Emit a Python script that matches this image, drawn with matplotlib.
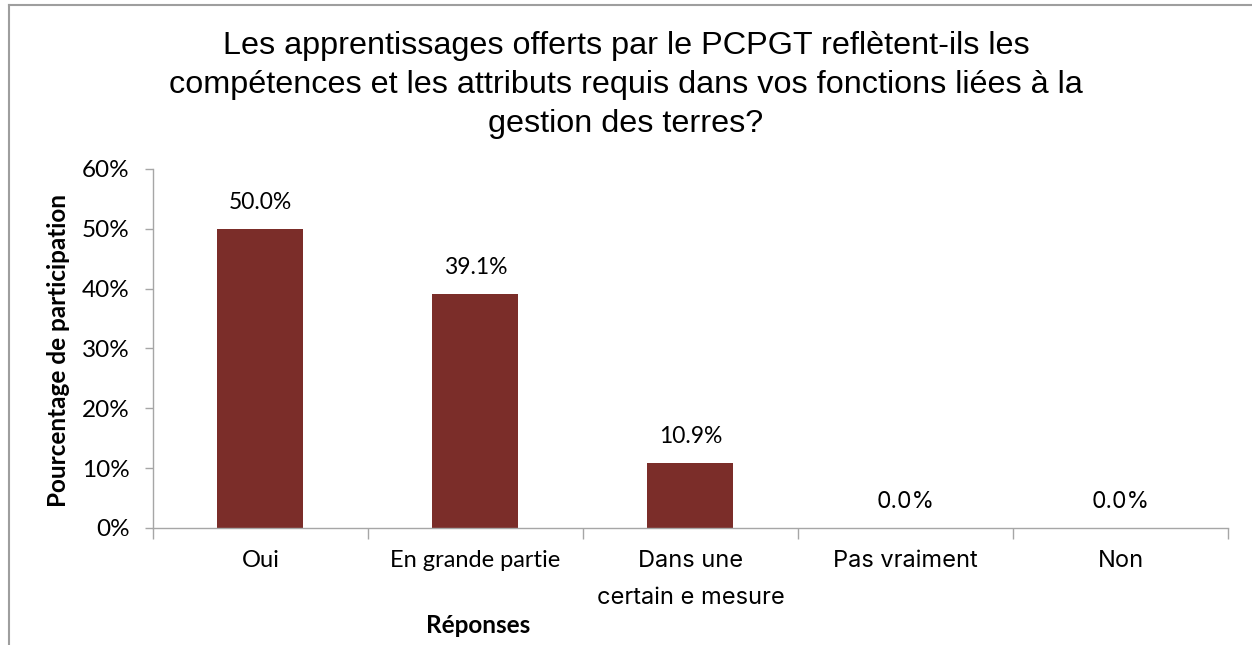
import matplotlib.pyplot as plt
from matplotlib.lines import Line2D
from matplotlib.ticker import FuncFormatter, MultipleLocator
from matplotlib.font_manager import fontManager

# -------------------------- données --------------------------
categories = ['Oui', 'En grande partie', 'Dans une\ncertain e mesure', 'Pas vraiment', 'Non']
values = [50.0, 39.1, 10.9, 0.0, 0.0]
title = ("Les apprentissages offerts par le PCPGT reflètent-ils les\n"
         "compétences et les attributs requis dans vos fonctions liées à la\n"
         "gestion des terres?")
ylabel = 'Pourcentage de participation'
xlabel = 'Réponses'

names = {f.name for f in fontManager.ttflist}
alt_font = 'Inter' if 'Inter' in names else 'Roboto'

# polices : texte principal style Calibri, quelques libellés style Aptos
label_fonts = ['Lato', 'Lato', alt_font, alt_font, alt_font]
value_fonts = ['Lato', 'Lato', 'Lato', alt_font, alt_font]
bar_color = '#7B2D29'
axis_gray = '#A6A6A6'

fig = plt.figure(figsize=(12.52, 6.45), dpi=100)
ax = fig.add_axes([0.1222, 0.1814, 0.8586, 0.5566])

x = list(range(len(categories)))
bars = ax.bar(x, values, width=0.4, color=bar_color, zorder=2)

ax.set_xlim(-0.5, len(categories) - 0.5)
ax.set_ylim(0, 60)
ax.yaxis.set_major_locator(MultipleLocator(10))
ax.yaxis.set_major_formatter(FuncFormatter(lambda v, p: f'{v:.0f}%'))

for s in ['top', 'right']:
    ax.spines[s].set_visible(False)
for s in ['left', 'bottom']:
    ax.spines[s].set_color(axis_gray)
    ax.spines[s].set_linewidth(1.0)

# graduations y
ax.tick_params(axis='y', direction='out', length=6, width=1.0, color=axis_gray,
               labelsize=17.5, pad=11, labelfontfamily='Lato')

# graduations x entre les catégories, libellés posés à la main
ax.set_xticks([])
ax.set_xticks([i - 0.5 for i in range(len(categories) + 1)], minor=True)
ax.tick_params(axis='x', which='minor', direction='out', length=8, width=1.0,
               color=axis_gray, labelbottom=False)
xform = ax.get_xaxis_transform()
for xi, lab, f in zip(x, categories, label_fonts):
    ax.text(xi, -0.06, lab, transform=xform, ha='center', va='top',
            fontsize=17, family=f, linespacing=1.9)

# étiquettes de valeur
for b, v, f in zip(bars, values, value_fonts):
    ax.annotate(f'{v:.1f}%', (b.get_x() + b.get_width() / 2, v),
                xytext=(0, 19), textcoords='offset points',
                ha='center', va='center', fontsize=16.5, family=f)

fig.text(0.047, 0.457, ylabel, rotation=90, ha='center', va='center',
         fontsize=17.5, fontweight='bold', family='Lato')
fig.text(0.382, 0.031, xlabel, ha='center', va='center',
         fontsize=17.5, fontweight='bold', family='Lato')

fig.text(0.5, 0.868, title, ha='center', va='center', fontsize=23.3,
         family='Liberation Sans', linespacing=1.38)

# cadre du graphique
fig.add_artist(Line2D([0.0068, 0.0068], [0.0, 0.9922], transform=fig.transFigure,
                      color='#9E9E9E', linewidth=1.5))
fig.add_artist(Line2D([0.0068, 1.0], [0.9922, 0.9922], transform=fig.transFigure,
                      color='#9E9E9E', linewidth=1.5))

fig.savefig('out.png', dpi=100)
